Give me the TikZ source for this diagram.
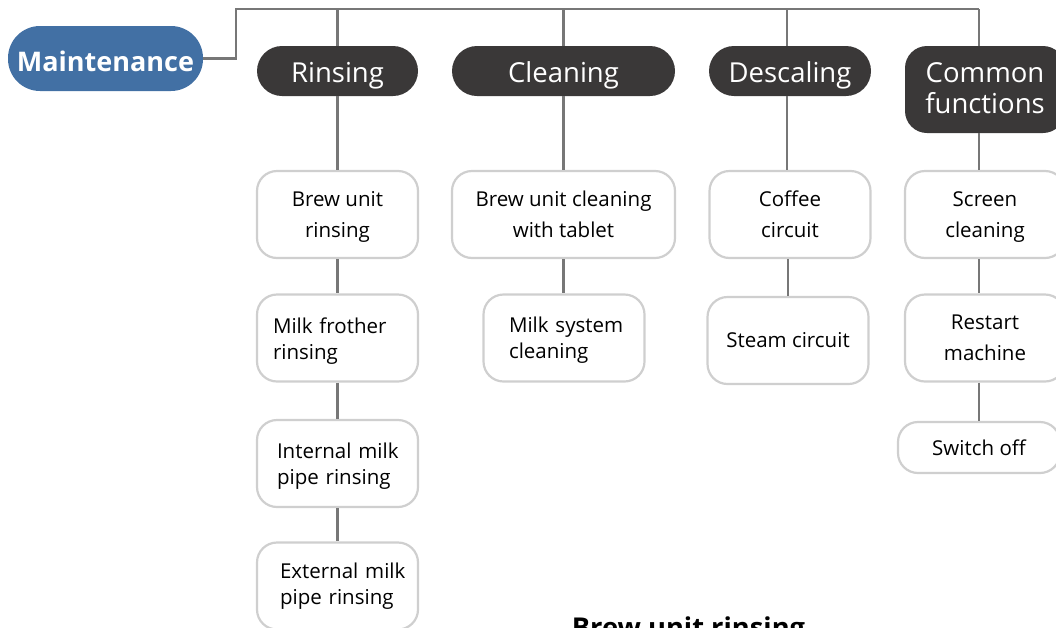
\documentclass[tikz,border=0pt]{standalone}
\usepackage{fontspec}
\setmainfont{Open Sans}
\definecolor{mblue}{HTML}{4270A4}
\definecolor{mdark}{HTML}{3A3838}
\definecolor{mline}{HTML}{777777}
\definecolor{mborder}{HTML}{CFCFCF}
\newcommand{\tstrut}[1]{\rule{0pt}{#1pt}}
\newcommand{\bstrut}{\rule[-5pt]{0pt}{5pt}}
\tikzset{
  rootbox/.style={fill=mblue, text=white, rounded corners=32pt, minimum width=195pt, minimum height=65pt, inner sep=0pt, text height=25pt, text depth=0pt, font=\fontsize{27}{30}\selectfont\bfseries},
  headbox/.style={fill=mdark, text=white, rounded corners=25pt, minimum height=50pt, inner sep=0pt, text height=22pt, text depth=0pt, font=\fontsize{27.5}{31}\selectfont},
  leafbox/.style={draw=mborder, line width=2.2pt, fill=white, rounded corners=20pt, minimum height=87pt, inner sep=0pt, font=\fontsize{20.5}{31}\selectfont, align=center},
  leftleaf/.style={leafbox, align=left, font=\fontsize{20.5}{26}\selectfont},
  conn/.style={draw=mline, line width=2.2pt},
}
\begin{document}
\begin{tikzpicture}[x=1pt,y=-1pt]
\useasboundingbox (0,0) rectangle (1056,627);
\clip (0,0) rectangle (1056,627);
% nodes
\node[rootbox] (maint) at (105.5,58.5) {Maintenance};
\node[headbox, minimum width=161pt] (rins) at (337.5,71) {Rinsing};
\node[headbox, minimum width=223pt] (clean) at (563.5,71) {Cleaning};
\node[headbox, minimum width=162pt] (desc) at (790,71) {Descaling};
\node[headbox, minimum width=160pt, minimum height=87pt, rounded corners=22pt, text height=, text depth=, align=center] (common) at (985,89.5) {\tstrut{21}Common\\[0pt]functions\bstrut};
% rinsing column
\node[leafbox, minimum width=161pt] (r1) at (337.5,214.5) {\tstrut{20}Brew unit\\rinsing\bstrut};
\node[leftleaf, minimum width=161pt, text width=129pt] (r2) at (337.5,338) {\tstrut{21.5}\mbox{Milk\,\,frother}\\\mbox{rinsing}\bstrut};
\node[leftleaf, minimum width=161pt, text width=121pt] (r3) at (337.5,463.5) {\tstrut{21.5}\mbox{Internal milk}\\\mbox{pipe rinsing}\bstrut};
\node[leftleaf, minimum width=161pt, text width=115pt] (r4) at (337.5,586) {\tstrut{15.5}\mbox{External milk}\\\mbox{pipe rinsing}\bstrut};
% cleaning column
\node[leafbox, minimum width=223pt] (c1) at (563.5,214.5) {\tstrut{20}Brew unit cleaning\\with tablet\bstrut};
\node[leftleaf, minimum width=161pt, text width=110pt] (c2) at (564,338) {\tstrut{19}\mbox{Milk system}\\\mbox{cleaning}\bstrut};
% descaling column
\node[leafbox, minimum width=161pt] (d1) at (790,214.5) {\tstrut{20}Coffee\\circuit\bstrut};
\node[leafbox, minimum width=161pt] (d2) at (788,340.5) {\tstrut{18}Steam circuit\bstrut};
% common column
\node[leafbox, minimum width=160pt] (f1) at (985,214.5) {\tstrut{20}Screen\\cleaning\bstrut};
\node[leafbox, minimum width=160pt] (f2) at (985,338) {\tstrut{19}Restart\\machine\bstrut};
\node[leafbox, minimum width=162pt, minimum height=51pt] (f3) at (979,447.5) {\tstrut{21}Switch off\bstrut};
% bottom heading (cut off)
\node[font=\fontsize{27.3}{30}\selectfont\bfseries, text=black, anchor=base] (next) at (688.5,637) {Brew unit rinsing};
% connectors
\coordinate (bus) at (236,9);
\draw[conn] (maint.east) -| (bus) -- (979,9);
\draw[conn] (rins.north) -- (rins.north |- bus);
\draw[conn] (clean.north) -- (clean.north |- bus);
\draw[conn] ([xshift=-3pt]desc.north) -- ([xshift=-3pt]desc.north |- bus);
\draw[conn] ([xshift=-6pt]common.north) -- ([xshift=-6pt]common.north |- bus);
\draw[conn] (rins.south) -- (r1.north);
\draw[conn] (r1.south) -- (r2.north);
\draw[conn] (r2.south) -- (r3.north);
\draw[conn] (r3.south) -- (r4.north);
\draw[conn] (clean.south) -- (c1.north);
\draw[conn] (c1.south) -- (c1.south |- c2.north);
\draw[conn] ([xshift=-3pt]desc.south) -- ([xshift=-3pt]d1.north);
\draw[conn] ([xshift=-2pt]d1.south) -- ([xshift=-2pt]d1.south |- d2.north);
\draw[conn] ([xshift=-6pt]common.south) -- ([xshift=-6pt]f1.north);
\draw[conn] ([xshift=-6pt]f1.south) -- ([xshift=-6pt]f2.north);
\draw[conn] ([xshift=-6pt]f2.south) -- ([xshift=-6pt]f2.south |- f3.north);
\end{tikzpicture}
\end{document}
